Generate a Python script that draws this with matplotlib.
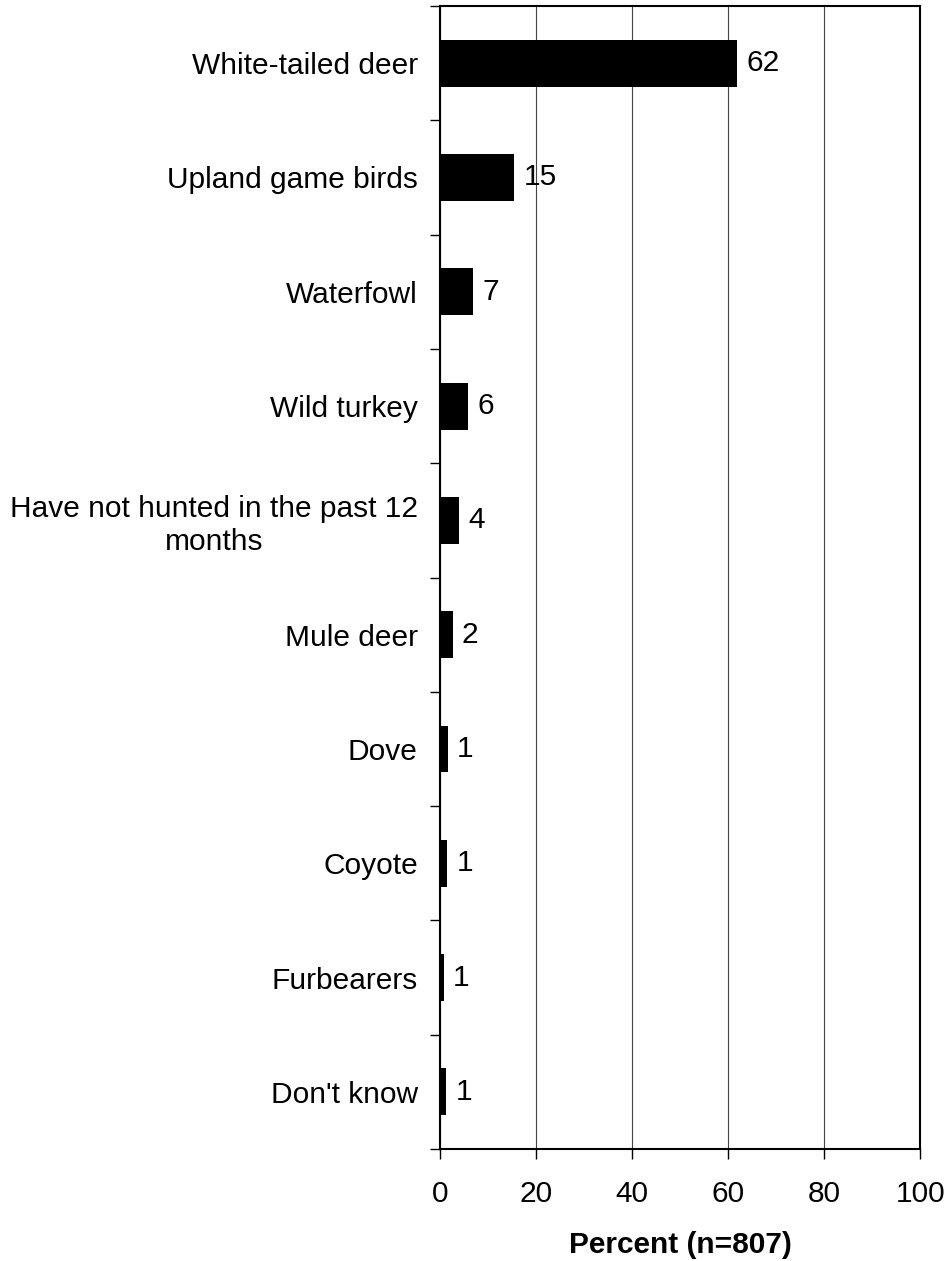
import matplotlib
matplotlib.use("Agg")
import matplotlib.pyplot as plt
import numpy as np

# Datos del gráfico
categorias = ["White-tailed deer", "Upland game birds", "Waterfowl", "Wild turkey",
              "Have not hunted in the past 12\nmonths", "Mule deer", "Dove", "Coyote",
              "Furbearers", "Don't know"]
valores = [61.9, 15.5, 6.9, 5.8, 4.0, 2.6, 1.6, 1.5, 0.8, 1.3]
etiquetas = ["62", "15", "7", "6", "4", "2", "1", "1", "1", "1"]
ticks_x = [0, 20, 40, 60, 80, 100]

plt.rcParams['font.family'] = ['Liberation Sans', 'DejaVu Sans']
fs = 21.5

fig = plt.figure(figsize=(9.5, 12.61), dpi=100)
ax = fig.add_axes([0.4632, 0.0888, 0.5053, 0.9064])

y = np.arange(len(categorias))
ax.barh(y, valores, height=0.41, color="black", zorder=3)
for yi, v, t in zip(y, valores, etiquetas):
    ax.text(v + 1.9, yi, t, va="center", ha="left", fontsize=fs)

ax.set_xlim(0, 100)
ax.set_ylim(len(categorias) - 0.5, -0.5)
ax.set_xticks(ticks_x)
ax.set_xticklabels([str(t) for t in ticks_x], fontsize=fs)
ax.tick_params(axis="x", direction="out", length=7, pad=15, width=1)

# separadores de categorías en el eje y
ax.set_yticks(np.arange(-0.5, len(categorias), 1.0))
ax.set_yticklabels([])
ax.set_yticks(y, minor=True)
ax.set_yticklabels(categorias, minor=True, fontsize=fs, ha="right", multialignment="center")
ax.tick_params(axis="y", which="major", direction="out", length=7, width=1)
ax.tick_params(axis="y", which="minor", length=0, pad=16)

ax.xaxis.grid(True, color="#444444", linewidth=0.8, zorder=0)
for s in ax.spines.values():
    s.set_linewidth(1.5)

ax.set_xlabel("Percent (n=807)", fontsize=fs, fontweight="bold", labelpad=17)

fig.savefig("out.png", dpi=100)
